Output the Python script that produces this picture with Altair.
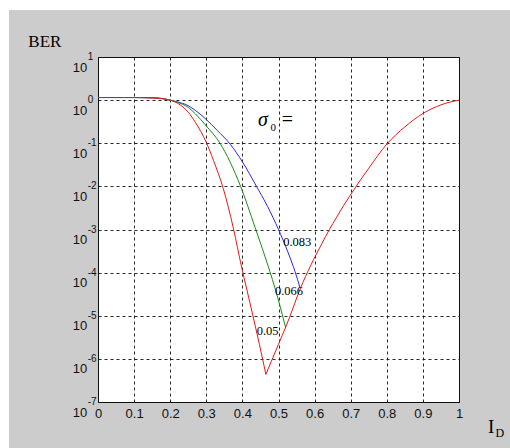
import altair as alt
import pandas as pd

# ---- data (log10 of BER) ----
x_083 = [0, 0.05, 0.1, 0.15, 0.18, 0.2, 0.22, 0.25, 0.27, 0.3, 0.33, 0.367, 0.4, 0.437, 0.47, 0.5, 0.525, 0.546, 0.56]
log_083 = [0.06, 0.06, 0.06, 0.055, 0.035, 0.0, -0.04, -0.13, -0.24, -0.45, -0.7, -1.03, -1.43, -1.97, -2.47, -3.0, -3.5, -3.98, -4.36]

x_066 = [0, 0.05, 0.1, 0.15, 0.18, 0.2, 0.22, 0.25, 0.27, 0.3, 0.338, 0.365, 0.395, 0.435, 0.476, 0.49, 0.52]
log_066 = [0.06, 0.06, 0.06, 0.055, 0.035, 0.0, -0.05, -0.17, -0.32, -0.6, -1.0, -1.42, -2.0, -2.95, -3.97, -4.35, -5.28]

# red curve, falling branch and rising branch (they meet at the minimum)
x_05_fall = [0, 0.05, 0.1, 0.15, 0.18, 0.2, 0.22, 0.25, 0.27, 0.3, 0.32, 0.347, 0.375, 0.398, 0.412, 0.428, 0.447, 0.465]
log_05_fall = [0.06, 0.06, 0.06, 0.05, 0.03, 0.0, -0.07, -0.28, -0.52, -0.98, -1.4, -2.05, -2.97, -3.88, -4.38, -4.96, -5.66, -6.36]
x_05_rise = [0.465, 0.48, 0.5, 0.52, 0.53, 0.56, 0.59, 0.62, 0.641, 0.66, 0.68, 0.715, 0.75, 0.8, 0.85, 0.9, 0.95, 1.0]
log_05_rise = [-6.36, -6.06, -5.66, -5.26, -5.05, -4.38, -3.82, -3.33, -3.0, -2.73, -2.45, -2.0, -1.58, -1.02, -0.62, -0.31, -0.11, 0.0]

series_colors = ["#2a2ad8", "#1a8a1a", "#dd1c1c"]

# curve labels
label_text = ["0.083", "0.066", "0.05"]
label_x = [0.513, 0.490, 0.4395]
label_log = [-3.39, -4.515, -5.45]

# tick values
x_ticks = [0, 0.1, 0.2, 0.3, 0.4, 0.5, 0.6, 0.7, 0.8, 0.9, 1]
y_decades = [-7, -6, -5, -4, -3, -2, -1, 0, 1]

W, H = 361, 345
TICK_FONT = "Liberation Sans Narrow, Liberation Sans, Arial, sans-serif"
SERIF = "Liberation Serif, Times New Roman, serif"

xs = alt.Scale(domain=[0, 1], nice=False, zero=False)
ys = alt.Scale(type="log", domain=[1e-7, 10], nice=False)

grid_kw = dict(grid=True, gridDash=[3, 3], gridColor="#111111", gridWidth=1, gridOpacity=0.9,
               ticks=False, domain=False, title=None)
xaxis = alt.Axis(values=x_ticks, format="~g", labelFont=TICK_FONT, labelFontSize=13, labelColor="#111",
                 labelPadding=5, labelFlush=False, labelOverlap=False, labelBound=False, **grid_kw)
yaxis = alt.Axis(values=[10.0 ** d for d in y_decades], labels=False, **grid_kw)


def curve(xv, lv, color):
    df = pd.DataFrame({"x": xv, "ber": [10.0 ** v for v in lv]})
    return alt.Chart(df).mark_line(color=color, strokeWidth=1, clip=True, interpolate="monotone").encode(
        x=alt.X("x:Q", scale=xs, axis=xaxis),
        y=alt.Y("ber:Q", scale=ys, axis=yaxis),
    )


def note(text, xv, lv, size, font=SERIF, style="normal", dy=0):
    df = pd.DataFrame({"x": [xv], "y": [10.0 ** lv], "t": [text]})
    return alt.Chart(df).mark_text(align="left", baseline="alphabetic", font=font, fontSize=size,
                                   fontStyle=style, color="#000", dy=dy).encode(
        x=alt.X("x:Q", scale=xs, axis=xaxis),
        y=alt.Y("y:Q", scale=ys, axis=yaxis),
        text="t:N",
    )


# white strips at top / left of the grey figure background
one = pd.DataFrame({"a": [0]})
strip_top = alt.Chart(one).mark_rect(color="white").encode(
    x=alt.value(-98), x2=alt.value(412), y=alt.value(-57), y2=alt.value(-47))
strip_left = alt.Chart(one).mark_rect(color="white").encode(
    x=alt.value(-98), x2=alt.value(-89), y=alt.value(-57), y2=alt.value(391))

# y tick labels: "10" with raised exponent
yt = pd.DataFrame({"val": [10.0 ** d for d in y_decades], "exp": [str(d) for d in y_decades],
                   "xb": [-0.0296] * len(y_decades), "xe": [-0.0283] * len(y_decades)})
ten = alt.Chart(yt).mark_text(align="right", baseline="alphabetic", dy=14.5, font=TICK_FONT,
                              fontSize=13, color="#111").encode(
    x=alt.X("xb:Q", scale=xs, axis=xaxis), y=alt.Y("val:Q", scale=ys, axis=yaxis), text=alt.value("10"))
expo = alt.Chart(yt).mark_text(align="left", baseline="alphabetic", dy=3, font=TICK_FONT,
                               fontSize=10, color="#111").encode(
    x=alt.X("xe:Q", scale=xs, axis=xaxis), y=alt.Y("val:Q", scale=ys, axis=yaxis), text="exp:N")

layers = [strip_top, strip_left,
          curve(x_083, log_083, series_colors[0]),
          curve(x_066, log_066, series_colors[1]),
          curve(x_05_fall, log_05_fall, series_colors[2]),
          curve(x_05_rise, log_05_rise, series_colors[2])]
for t, xv, lv in zip(label_text, label_x, label_log):
    layers.append(note(t, xv, lv, 12.5))
layers += [
    note("σ", 0.443, -0.60, 20, style="italic"),
    note("0", 0.478, -0.71, 11),
    note("=", 0.509, -0.60, 20),
    note("BER", -0.193, 1.239, 17),
    note("I", 1.080, -7.724, 19),
    note("D", 1.101, -7.817, 12),
    ten, expo,
]

chart = alt.layer(*layers).properties(
    width=W, height=H,
    autosize=alt.AutoSizeParams(type="none"),
    padding={"left": 98, "top": 57, "right": 51, "bottom": 46},
    background="#cccccc",
).configure_view(fill="white", stroke="#111111", strokeWidth=1)

chart.save("out.html", embed_options={"renderer": "svg", "actions": False})
